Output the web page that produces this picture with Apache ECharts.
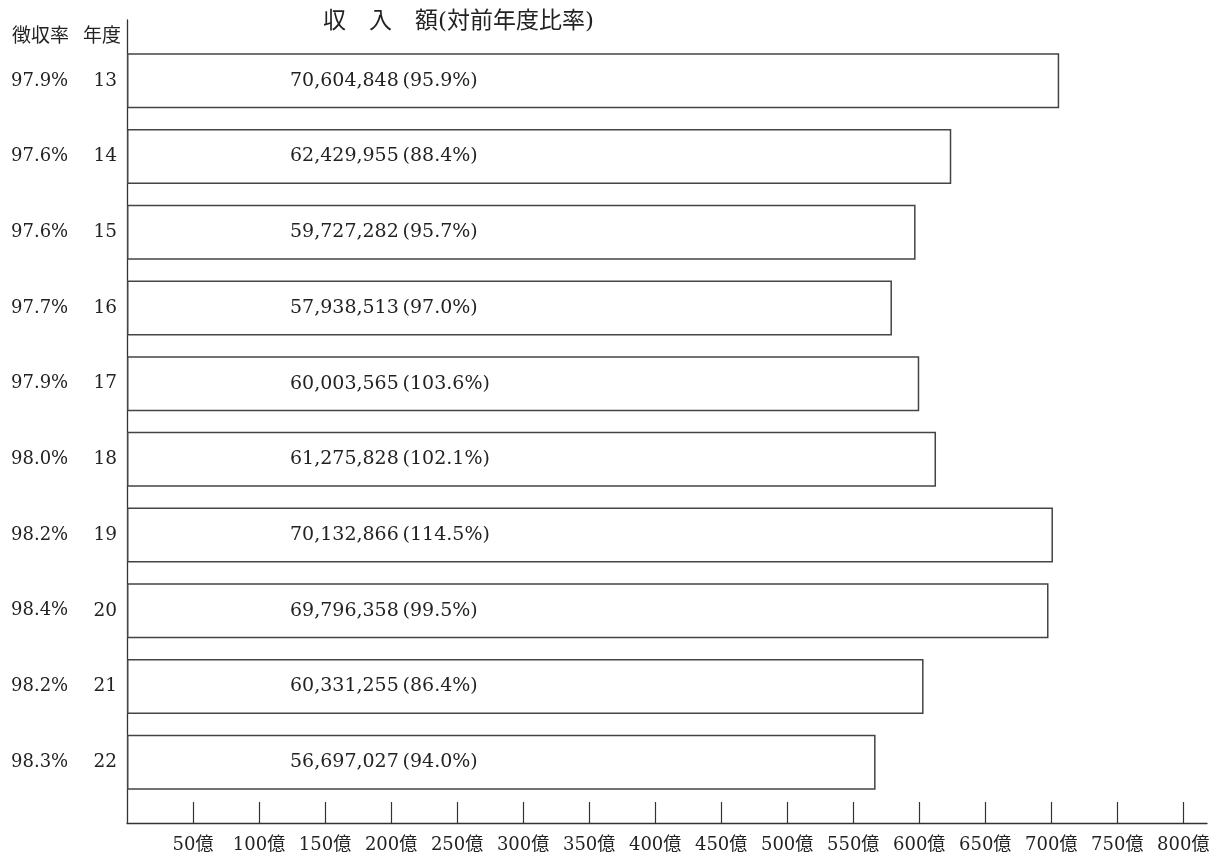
<!DOCTYPE html>
<html><head><meta charset="utf-8">
<script src="https://cdn.jsdelivr.net/npm/echarts@6/dist/echarts.min.js"></script>
<style>html,body{margin:0;padding:0;background:#fff}#c{width:1223px;height:856px}</style>
</head><body><div id="c"></div>
<script>
const years = ['13','14','15','16','17','18','19','20','21','22'];
const rates = ['97.9%','97.6%','97.6%','97.7%','97.9%','98.0%','98.2%','98.4%','98.2%','98.3%'];
const revenue = [70604848, 62429955, 59727282, 57938513, 60003565, 61275828, 70132866, 69796358, 60331255, 56697027];
const ratios = ['95.9%','88.4%','95.7%','97.0%','103.6%','102.1%','114.5%','99.5%','86.4%','94.0%'];
const tickValues = [50,100,150,200,250,300,350,400,450,500,550,600,650,700,750,800];
const axisMax = 818;

const FONT = '"DejaVu Serif", "Noto Sans CJK JP", serif';
const TXT = '#222';
const chart = echarts.init(document.getElementById('c'));
chart.setOption({
  animation: false,
  backgroundColor: '#fff',
  textStyle: { fontFamily: FONT },
  title: [
    { text: '収　入　額(対前年度比率)', left: 323, top: 11, padding: 0, textStyle: { fontFamily: FONT, fontSize: 23, fontWeight: 'normal', color: TXT } },
    { text: '徴収率', left: 12, top: 28, padding: 0, textStyle: { fontFamily: FONT, fontSize: 19, fontWeight: 'normal', color: TXT } },
    { text: '年度', left: 83, top: 28, padding: 0, textStyle: { fontFamily: FONT, fontSize: 19, fontWeight: 'normal', color: TXT } }
  ],
  grid: [
    { left: 127, right: 16, top: 43, bottom: 56 },
    { left: 127, right: 16, top: 20, bottom: 33 }
  ],
  xAxis: [
    { gridIndex: 0, type: 'value', min: 0, max: axisMax, show: false },
    { gridIndex: 1, type: 'value', min: 0, max: axisMax,
      axisLine: { show: true, lineStyle: { color: '#333', width: 1.3 } },
      axisTick: { show: true, inside: true, length: 21, customValues: tickValues, lineStyle: { color: '#333', width: 1.2 } },
      axisLabel: { customValues: tickValues, margin: 13, fontSize: 18, color: TXT, fontFamily: FONT, formatter: v => v + '億' },
      splitLine: { show: false } }
  ],
  yAxis: [
    { gridIndex: 0, type: 'category', inverse: true, data: years,
      axisLine: { show: false }, axisTick: { show: false },
      axisLabel: { margin: 10, fontFamily: FONT,
        formatter: (v, i) => '{a|' + rates[i] + '}{b|' + v + '}',
        rich: { a: { width: 78, align: 'left', fontSize: 18, color: TXT, fontFamily: FONT },
                b: { width: 28, align: 'right', fontSize: 18.5, color: TXT, fontFamily: FONT } } } },
    { gridIndex: 1, type: 'value', min: 0, max: 1,
      axisLine: { show: true, lineStyle: { color: '#333', width: 1.3 } },
      axisTick: { show: false }, axisLabel: { show: false }, splitLine: { show: false } }
  ],
  series: [{
    type: 'bar', xAxisIndex: 0, yAxisIndex: 0,
    barWidth: 55,
    data: revenue.map(v => v / 100000),
    itemStyle: { color: '#fff', borderColor: '#444', borderWidth: 1.5 },
    label: { show: true, position: [163, '50%'], verticalAlign: 'middle', align: 'left',
      fontSize: 19, color: TXT, fontFamily: FONT,
      formatter: p => revenue[p.dataIndex].toLocaleString('en-US') + '\u2009(' + ratios[p.dataIndex] + ')' }
  }]
});
</script></body></html>
